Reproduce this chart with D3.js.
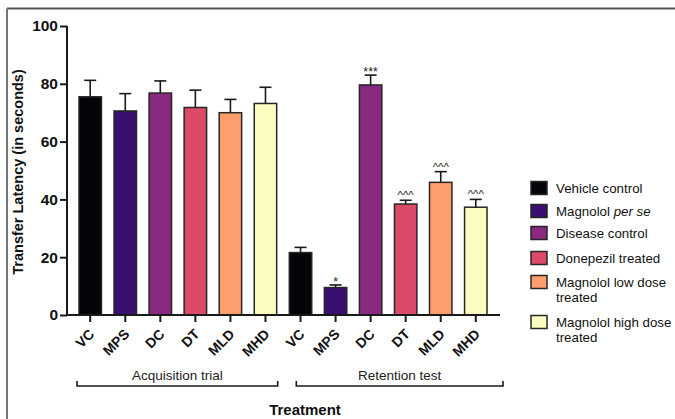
<!DOCTYPE html>
<html>
<head>
<meta charset="utf-8">
<script src="https://cdn.jsdelivr.net/npm/d3@7"></script>
<style>
  html, body { margin: 0; padding: 0; background: #fff; }
  svg { display: block; font-family: "Liberation Sans", Arial, sans-serif; }
</style>
</head>
<body>
<svg id="chart" width="675" height="419"></svg>
<script>
// Treatment groups (shared by both phases)
const groups = ["VC", "MPS", "DC", "DT", "MLD", "MHD"];
const groupNames = ["Vehicle control", "Magnolol per se", "Disease control",
  "Donepezil treated", "Magnolol low dose treated", "Magnolol high dose treated"];
const colors = ["#050509", "#3b0f6f", "#8a2980", "#dd4968", "#fd9e6c", "#fbfcbf"];

// Mean transfer latency (s) and mean + SEM
const acquisitionMean = [75.5, 70.6, 76.8, 71.8, 70.0, 73.2];
const acquisitionErr  = [81.2, 76.6, 81.0, 77.8, 74.6, 78.8];
const retentionMean   = [21.6, 9.5, 79.6, 38.4, 45.9, 37.3];
const retentionErr    = [23.4, 10.4, 83.0, 39.7, 49.6, 40.0];
const retentionSig    = ["", "*", "***", "^^^", "^^^", "^^^"];

const phases = ["Acquisition trial", "Retention test"];
const yTicks = [0, 20, 40, 60, 80, 100];

const bars = [];
groups.forEach((g, i) => bars.push({ phase: 0, g, i, mean: acquisitionMean[i], err: acquisitionErr[i], sig: "" }));
groups.forEach((g, i) => bars.push({ phase: 1, g, i, mean: retentionMean[i], err: retentionErr[i], sig: retentionSig[i] }));
bars.forEach((d, k) => d.key = k);

const svg = d3.select("#chart");
const ink = "#1a1a1a";

// frame lines along top and left
svg.append("line").attr("x1", 7).attr("x2", 675).attr("y1", 8.5).attr("y2", 8.5)
  .attr("stroke", "#555").attr("stroke-width", 2);
svg.append("line").attr("x1", 7).attr("x2", 7).attr("y1", 8.5).attr("y2", 419)
  .attr("stroke", "#777").attr("stroke-width", 2);

const x = d3.scaleBand().domain(bars.map(d => d.key)).range([79, 487]).paddingInner(0.36).paddingOuter(0);
const y = d3.scaleLinear().domain([0, 100]).range([315, 26]);
const xAxisStart = 67, xAxisEnd = 500;

// bars
svg.append("g").selectAll("rect").data(bars).join("rect")
  .attr("x", d => x(d.key))
  .attr("y", d => y(d.mean))
  .attr("width", x.bandwidth())
  .attr("height", d => y(0) - y(d.mean))
  .attr("fill", d => colors[d.i])
  .attr("stroke", "#262626").attr("stroke-width", 1.5);

// error bars
const eb = svg.append("g").attr("stroke", ink).attr("stroke-width", 1.6);
bars.forEach(d => {
  const cx = x(d.key) + x.bandwidth() / 2;
  eb.append("line").attr("x1", cx).attr("x2", cx).attr("y1", y(d.mean)).attr("y2", y(d.err));
  eb.append("line").attr("x1", cx - 6).attr("x2", cx + 6).attr("y1", y(d.err)).attr("y2", y(d.err));
});

// significance marks
svg.append("g").selectAll("text").data(bars.filter(d => d.sig)).join("text")
  .attr("x", d => x(d.key) + x.bandwidth() / 2)
  .attr("y", d => y(d.err) - (d.sig.startsWith("^") ? 1 : -1))
  .attr("text-anchor", "middle")
  .attr("font-size", d => d.sig.startsWith("^") ? 11.5 : 12.5)
  .attr("fill", "#222")
  .text(d => d.sig);

// y axis
const yAxis = svg.append("g").attr("transform", `translate(${xAxisStart},0)`)
  .call(d3.axisLeft(y).tickValues(yTicks).tickSize(7).tickPadding(2));
yAxis.select(".domain").remove();
yAxis.append("line").attr("x1", 0).attr("x2", 0).attr("y1", y(0) + 1).attr("y2", y(100))
  .attr("stroke", ink).attr("stroke-width", 2);
yAxis.selectAll(".tick line").attr("stroke", ink).attr("stroke-width", 2);
yAxis.selectAll(".tick text").attr("font-size", 15.5).attr("font-weight", "bold")
  .attr("fill", "#111").attr("font-family", "'Liberation Sans', Arial, sans-serif");

// x axis
const xAxis = svg.append("g").attr("transform", `translate(0,${y(0)})`)
  .call(d3.axisBottom(x).tickSize(7).tickFormat(k => bars[k].g));
xAxis.select(".domain").remove();
xAxis.append("line").attr("x1", xAxisStart).attr("x2", xAxisEnd).attr("y1", 0).attr("y2", 0)
  .attr("stroke", ink).attr("stroke-width", 2);
xAxis.selectAll(".tick line").attr("stroke", ink).attr("stroke-width", 2);
xAxis.selectAll(".tick text")
  .attr("font-size", 14).attr("font-weight", "bold").attr("fill", "#111")
  .attr("font-family", "'Liberation Sans', Arial, sans-serif")
  .attr("text-anchor", "end").attr("dy", null)
  .attr("transform", "translate(5,20) rotate(-45)")
  .attr("y", 0).attr("x", 0);

// phase brackets, each spanning its six bars
const bracketPad = [[-2, 1], [7, 16]];
phases.forEach((p, pi) => {
  const keys = bars.filter(d => d.phase === pi).map(d => d.key);
  const x0 = x(keys[0]) + bracketPad[pi][0];
  const x1 = x(keys[keys.length - 1]) + x.bandwidth() + bracketPad[pi][1];
  const by = 386;
  svg.append("path")
    .attr("d", `M${x0},${by - 5}V${by}H${x1}V${by - 5}`)
    .attr("fill", "none").attr("stroke", ink).attr("stroke-width", 1.6);
  svg.append("text").attr("x", (x0 + x1) / 2).attr("y", 380)
    .attr("text-anchor", "middle").attr("font-size", 13.5).attr("fill", "#222").text(p);
});

// axis titles
svg.append("text").attr("x", 305).attr("y", 415).attr("text-anchor", "middle")
  .attr("font-size", 15).attr("font-weight", "bold").attr("fill", "#111").text("Treatment");
svg.append("text").attr("transform", "translate(23,172) rotate(-90)")
  .attr("text-anchor", "middle").attr("font-size", 14.5).attr("font-weight", "bold")
  .attr("fill", "#111").text("Transfer Latency (in seconds)");

// legend
const legendRows = [188, 211, 233, 258, 282, 322];
const leg = svg.append("g");
groupNames.forEach((name, i) => {
  const ly = legendRows[i];
  leg.append("rect").attr("x", 531).attr("y", ly - 6.5).attr("width", 16).attr("height", 13)
    .attr("fill", colors[i]).attr("stroke", "#262626").attr("stroke-width", 1.5);
  const t = leg.append("text").attr("x", 556).attr("y", ly + 5)
    .attr("font-size", 13.3).attr("fill", "#111");
  if (i === 1) {
    t.append("tspan").text("Magnolol ");
    t.append("tspan").attr("font-style", "italic").text("per se");
  } else if (i >= 4) {
    const parts = name.split(" treated");
    t.append("tspan").text(parts[0]);
    t.append("tspan").attr("x", 556).attr("dy", 15).text("treated");
  } else {
    t.text(name);
  }
});
</script>
</body>
</html>
